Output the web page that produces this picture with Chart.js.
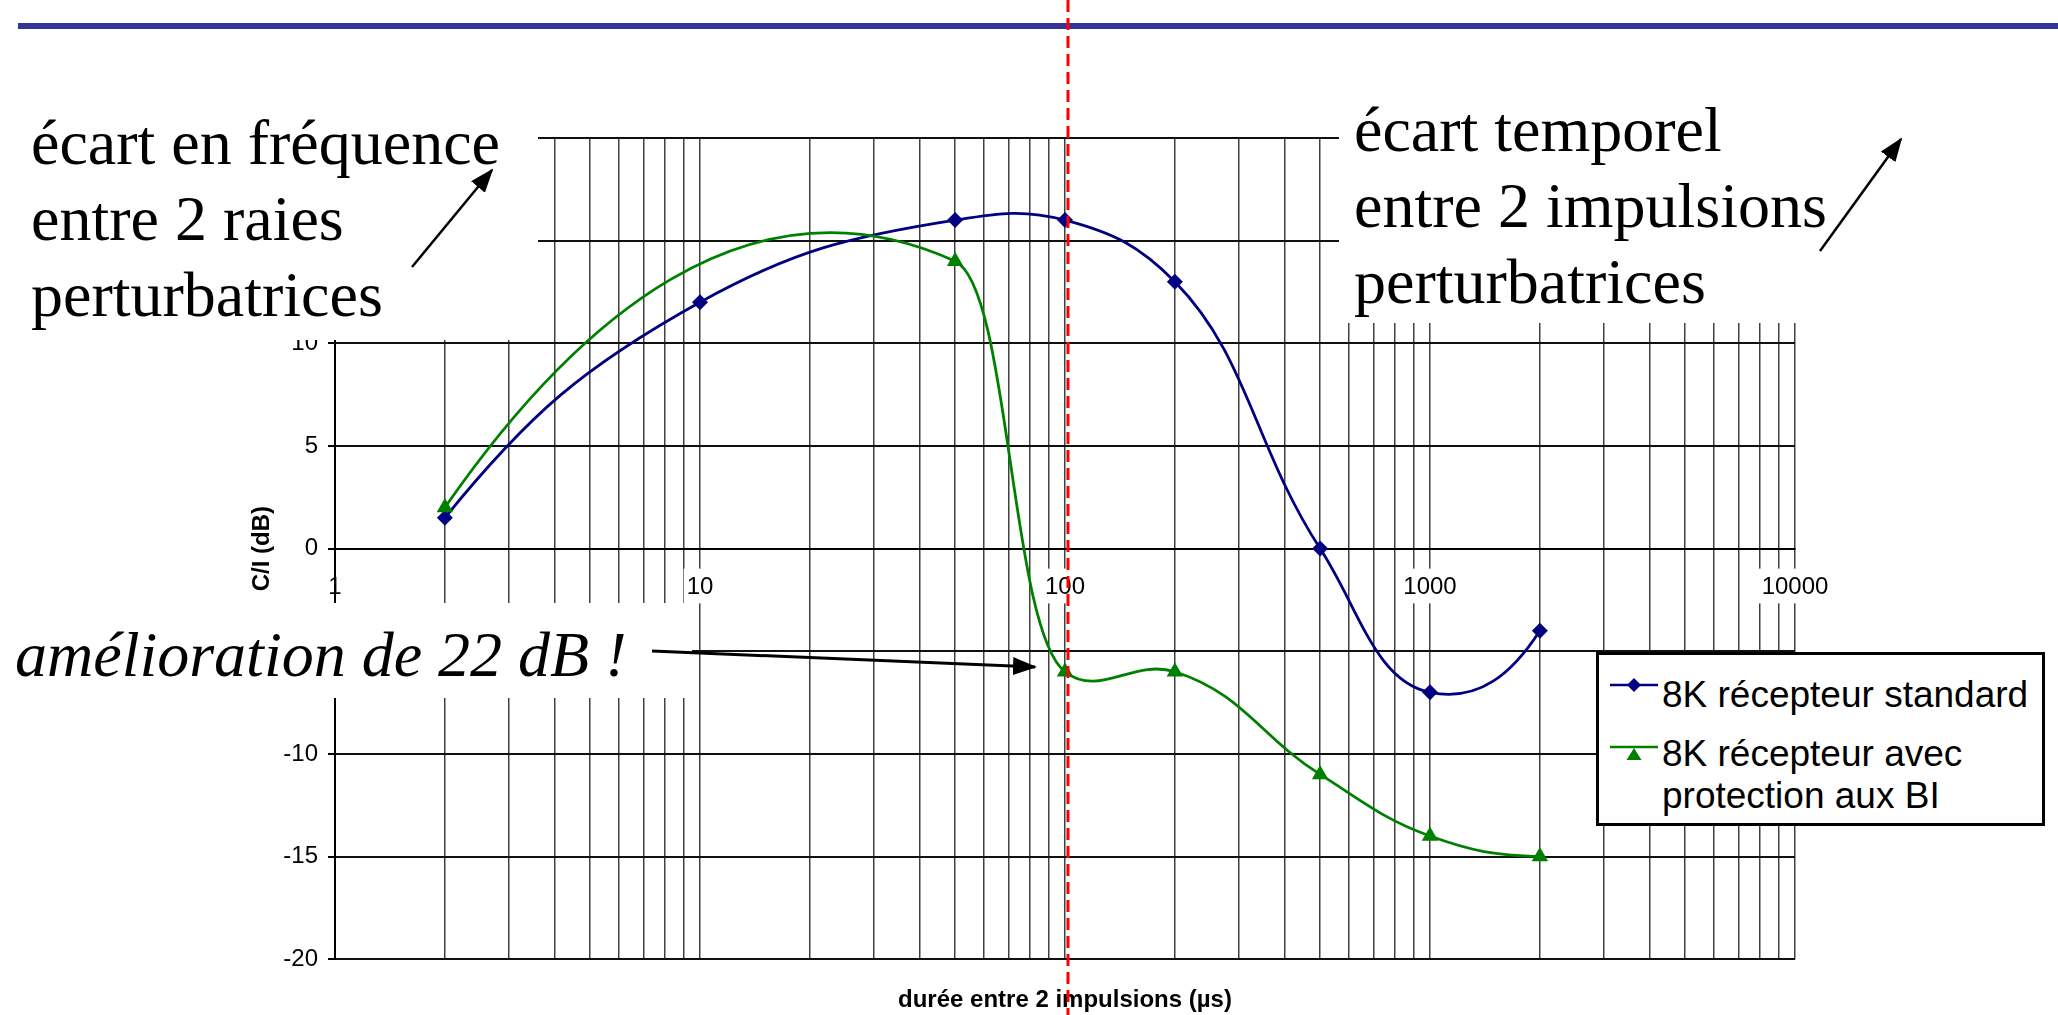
<!DOCTYPE html>
<html lang="fr">
<head>
<meta charset="utf-8">
<title>C/I en fonction de la durée entre 2 impulsions</title>
<script src="https://cdn.jsdelivr.net/npm/chart.js@4.4.1/dist/chart.umd.min.js"></script>
<style>
  html, body { margin: 0; padding: 0; background: #fff; overflow: hidden; }
  #page { position: relative; width: 2058px; height: 1015px; }
  #graphe { position: absolute; left: 0; top: 0; }
  .note {
    position: absolute; background: #fff; color: #000; white-space: nowrap;
    font-family: 'Liberation Serif', 'Times New Roman', serif;
    font-size: 64px; line-height: 76px; box-sizing: border-box;
  }
  #legende {
    position: absolute; left: 1596px; top: 652px; width: 449px; height: 174px;
    box-sizing: border-box; border: 3px solid #000; background: #fff;
    font-family: 'Liberation Sans', Arial, sans-serif; font-size: 37px; line-height: 41.5px; color: #000;
  }
  #legende .item { position: absolute; left: 63px; width: 380px; }
  #legende svg { position: absolute; left: 8px; }
  #dessus { position: absolute; left: 0; top: 0; pointer-events: none; }
</style>
</head>
<body>
<div id="page">
  <canvas id="graphe" width="2058" height="1015"></canvas>

  <div class="note" style="left:0; top:100px; width:538px; height:240px; padding:5px 0 0 31px;">écart en fréquence<br>entre 2 raies<br>perturbatrices</div>
  <div class="note" style="left:1339px; top:80px; width:719px; height:243px; padding:12px 0 0 15px;">écart temporel<br>entre 2 impulsions<br>perturbatrices</div>
  <div class="note" style="left:0; top:603px; width:692px; height:95px; padding:14px 0 0 15px; font-style:italic;">amélioration de 22 dB !</div>

  <div id="legende"></div>

  <svg id="dessus" width="2058" height="1015">
    <defs>
      <marker id="pointe" viewBox="0 0 24 18" markerWidth="24" markerHeight="18" refX="22" refY="9" orient="auto" markerUnits="userSpaceOnUse">
        <path d="M0,0 L24,9 L0,18 z" fill="#000"/>
      </marker>
    </defs>
    <rect x="18" y="23" width="2040" height="6" fill="#333399"/>
    <line x1="412" y1="267" x2="492" y2="170" stroke="#000" stroke-width="2.5" marker-end="url(#pointe)"/>
    <line x1="1820" y1="251" x2="1901" y2="139" stroke="#000" stroke-width="2.5" marker-end="url(#pointe)"/>
    <line x1="652" y1="651" x2="1035" y2="667" stroke="#000" stroke-width="3" marker-end="url(#pointe)"/>
    <line x1="1068" y1="0" x2="1068" y2="1015" stroke="#ff0000" stroke-width="3" stroke-dasharray="12 6"/>
  </svg>
</div>

<script>
// durée entre 2 impulsions (µs) et C/I mesuré (dB)
const durees = [2, 10, 50, 100, 200, 500, 1000, 2000];
const ciStandard = [1.5, 12, 16, 16, 13, 0, -7, -4];

const dureesProtection = [2, 50, 100, 200, 500, 1000, 2000];
const ciProtection = [2, 14, -6, -6, -11, -14, -15];

// graduations
const decades = [1, 10, 100, 1000, 10000];
const ciMin = -20, ciMax = 20, ciPas = 5;

const sans = "'Liberation Sans', Arial, sans-serif";

// lignes de grille verticales : 1..9 par décade
const grilleX = [];
decades.forEach((d, i) => {
  if (i === decades.length - 1) { grilleX.push(d); return; }
  for (let m = 1; m <= 9; m++) grilleX.push(d * m);
});

Chart.defaults.font.family = sans;
Chart.defaults.color = '#000';

// courbes lissées comme dans le tableur d'origine :
// tangente = somme des directions vers les voisins, bras proportionnels aux segments,
// sans jamais dépasser la moitié de l'écart horizontal (pas de retour en arrière)
const lissage = {
  id: 'lissage',
  beforeDatasetDraw(chart, args) {
    const pts = args.meta.data;
    const n = pts.length;
    if (n < 3) return;
    const k = 0.4, maxX = 0.5;
    const unit = (x, y) => { const d = Math.hypot(x, y) || 1; return { x: x / d, y: y / d }; };
    const dist = (a, b) => Math.hypot(b.x - a.x, b.y - a.y);
    const tan = [];
    for (let i = 1; i < n - 1; i++) {
      const a = unit(pts[i].x - pts[i - 1].x, pts[i].y - pts[i - 1].y);
      const b = unit(pts[i + 1].x - pts[i].x, pts[i + 1].y - pts[i].y);
      tan[i] = unit(a.x + b.x, a.y + b.y);
    }
    const u0 = unit(pts[1].x - pts[0].x, pts[1].y - pts[0].y);
    tan[0] = unit(2 * u0.x - tan[1].x, 2 * u0.y - tan[1].y);
    const un = unit(pts[n - 1].x - pts[n - 2].x, pts[n - 1].y - pts[n - 2].y);
    tan[n - 1] = unit(2 * un.x - tan[n - 2].x, 2 * un.y - tan[n - 2].y);

    const bras = (p, q, t) => {
      let l = dist(p, q) * k;
      const lim = Math.abs(q.x - p.x) * maxX;
      if (Math.abs(t.x) * l > lim) l = lim / Math.abs(t.x);
      return l;
    };
    pts.forEach((p, i) => {
      const t = tan[i];
      const lAv = i > 0 ? bras(pts[i - 1], p, t) : 0;
      const lAp = i < n - 1 ? bras(p, pts[i + 1], t) : 0;
      p.cp1x = p.x - t.x * lAv;
      p.cp1y = p.y - t.y * lAv;
      p.cp2x = p.x + t.x * lAp;
      p.cp2y = p.y + t.y * lAp;
    });
    args.meta.dataset._pointsUpdated = true;
    delete args.meta.dataset._path;
  }
};

const data = {
  datasets: [{
    label: '8K récepteur standard',
    data: durees.map((d, i) => ({ x: d, y: ciStandard[i] })),
    borderColor: '#000080',
    backgroundColor: '#000080',
    borderWidth: 2.8,
    pointStyle: 'rectRot',
    pointRadius: 8,
    pointBorderWidth: 0,
    tension: 0.4,
    order: 1
  }, {
    label: '8K récepteur avec protection aux BI',
    data: dureesProtection.map((d, i) => ({ x: d, y: ciProtection[i] })),
    borderColor: '#008000',
    backgroundColor: '#008000',
    borderWidth: 2.8,
    pointStyle: 'triangle',
    pointRadius: 9.5,
    pointBorderWidth: 0,
    tension: 0.4,
    order: 0
  }]
};

const config = {
  type: 'line',
  data,
  plugins: [lissage],
  options: {
    responsive: false,
    animation: false,
    devicePixelRatio: 1,
    layout: { padding: { left: 248, top: 138, right: 263, bottom: 0 } },
    plugins: {
      legend: { display: false },
      tooltip: { enabled: false },
      title: {
        display: true,
        position: 'bottom',
        fullSize: false,
        text: 'durée entre 2 impulsions (µs)',
        color: '#000',
        font: { family: sans, size: 24, weight: 'bold' },
        padding: { top: 27, bottom: 0 }
      }
    },
    scales: {
      x: {
        type: 'logarithmic',
        position: { y: 0 },
        min: 1,
        max: 10000,
        afterBuildTicks: (scale) => { scale.ticks = grilleX.map(v => ({ value: v })); },
        ticks: {
          autoSkip: false,
          maxRotation: 0,
          padding: 24,
          font: { size: 24 },
          color: '#000',
          callback: (v) => decades.includes(v) ? String(v) : '',
          showLabelBackdrop: (c) => c.tick.value > decades[0] && decades.includes(c.tick.value),
          backdropColor: '#fff',
          backdropPadding: { top: 4, bottom: 2, left: 3, right: 3 }
        },
        grid: { color: 'rgba(0,0,0,0.75)', lineWidth: 1.5, drawTicks: false },
        border: { color: '#000', width: 2 }
      },
      y: {
        min: ciMin,
        max: ciMax,
        ticks: { stepSize: ciPas, padding: 10, font: { size: 24 }, color: '#000' },
        grid: { color: '#111', lineWidth: 2, tickLength: 7, tickColor: '#000' },
        border: { color: '#000', width: 2 },
        title: {
          display: true,
          text: 'C/I (dB)',
          color: '#000',
          font: { family: sans, size: 24, weight: 'bold' },
          padding: 0
        },
        afterFit: (scale) => { scale.width = 87; }
      }
    }
  }
};

const graphe = new Chart(document.getElementById('graphe'), config);

// légende dessinée à part, posée sur la zone du graphique
const legende = document.getElementById('legende');
const rangs = [{ top: 19, svgTop: 18 }, { top: 78, svgTop: 80 }];
graphe.data.datasets.forEach((ds, i) => {
  const couleur = ds.borderColor;
  const marque = ds.pointStyle === 'triangle'
    ? `<polygon points="27,13 34.5,25 19.5,25" fill="${couleur}"/>`
    : `<polygon points="20,12 27,5 34,12 27,19" fill="${couleur}"/>`;
  const svg = `<svg width="56" height="28" style="top:${rangs[i].svgTop}px">
      <line x1="3" y1="12" x2="51" y2="12" stroke="${couleur}" stroke-width="2.5"/>${marque}</svg>`;
  legende.insertAdjacentHTML('beforeend', svg + `<div class="item" style="top:${rangs[i].top}px">${ds.label}</div>`);
});
</script>
</body>
</html>
